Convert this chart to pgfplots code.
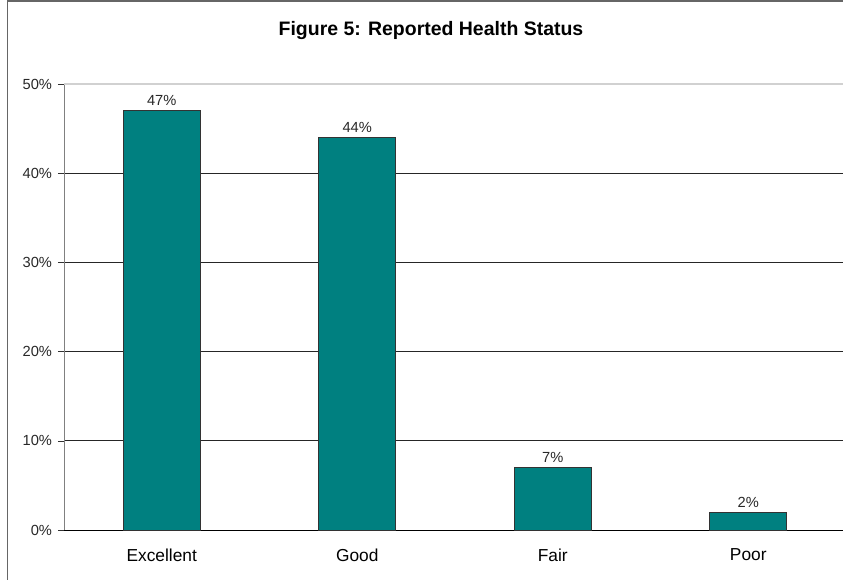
\documentclass[border=0pt]{standalone}
\usepackage{pgfplots}
\pgfplotsset{compat=1.18}
\usepackage{fontspec}
\setmainfont{Liberation Sans}
\definecolor{barteal}{RGB}{0,128,128}
\definecolor{txtgray}{RGB}{40,40,40}

\begin{document}
\begin{tikzpicture}[x=0.75pt,y=0.75pt]
% picture frame in pixel units (843 x 579)
\path[use as bounding box] (0,0) rectangle (843,579);
\clip (0,0) rectangle (843,579);
\draw[black!60, line width=1.2pt] (7.5,-10) -- (7.5,577.8) -- (900,577.8);
\node[font=\fontsize{14.6}{16}\selectfont\bfseries] at (431,548) {Figure 5: Reported Health Status};

\begin{axis}[
    at={(48pt,36.75pt)}, anchor=south west,
    scale only axis,
    width=586.5pt, height=334.5pt,
    ybar, bar width=57.75pt,
    xmin=-0.5, xmax=3.5,
    ymin=0, ymax=50,
    axis lines=left,
    axis line style={-},
    x axis line style={black},
    y axis line style={black!50},
    xtick={0,1,2,3},
    xticklabels={Excellent, Good, Fair, Poor},
    xtick style={draw=none},
    minor xtick={0.5,1.5,2.5},
    minor x tick style={black, thin},
    minor tick length=3.75pt,
    ytick={0,10,20,30,40},
    yticklabels={0\%,10\%,20\%,30\%,40\%},
    extra y ticks={50},
    extra y tick labels={50\%},
    extra y tick style={major grid style={black!18, line width=0.8pt}},
    ytick style={black!80},
    major tick length=4.5pt,
    tick align=outside,
    ymajorgrids=true,
    major grid style={black!85, line width=0.5pt},
    /pgf/number format/assume math mode=true,
    ticklabel style={font=\fontsize{11}{13}\selectfont, text=txtgray},
    yticklabel style={xshift=-1pt},
    xticklabel style={font=\fontsize{13}{15}\selectfont, text=black, yshift=-6pt},
    nodes near coords={\pgfmathprintnumber{\pgfplotspointmeta}\%},
    every node near coord/.append style={font=\fontsize{11}{13}\selectfont, text=txtgray, yshift=0pt},
]
\addplot[fill=barteal, draw=black!80, line width=0.5pt] coordinates {
    (0,47) (1,44) (2,7) (3,2)
};
\end{axis}
\end{tikzpicture}
\end{document}
